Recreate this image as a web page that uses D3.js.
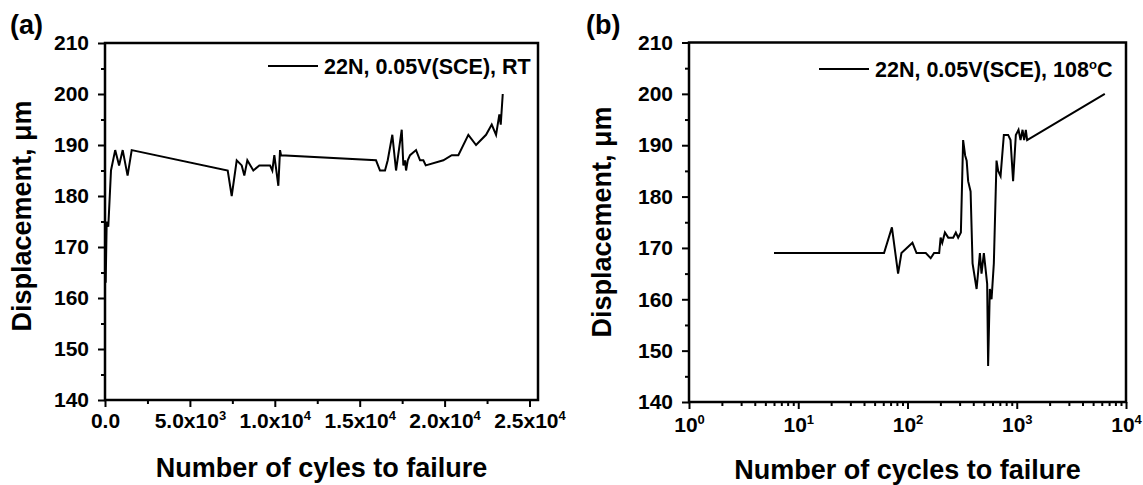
<!DOCTYPE html>
<html>
<head>
<meta charset="utf-8">
<script src="https://cdn.jsdelivr.net/npm/d3@7"></script>
<style>
  body { margin: 0; background: #fff; }
  svg text { font-family: "Liberation Sans", Arial, sans-serif; font-weight: bold; fill: #000; }
</style>
</head>
<body>
<svg id="chart" width="1143" height="485"></svg>
<script>
// Panel (a): RT test, linear cycles
var aCycles = [40, 100, 194, 353, 600, 830, 1042, 1330, 1573, 7227, 7462, 7757, 8051, 8205, 8382, 8735,
  9089, 9719, 9854, 9972, 10208, 10308, 10366, 15960, 16195, 16490, 16650, 16921, 17140, 17475, 17570,
  17670, 17730, 17830, 17965, 18318, 18553, 18748, 18890, 19926, 20420, 20809, 21398, 21852, 22441,
  22776, 23030, 23224, 23306, 23424];
var aDisp = [163, 175, 174, 185, 189, 186, 189, 184, 189, 185, 180, 187, 186, 184, 187, 185,
  186, 186, 185, 188, 182, 189, 188, 187, 185, 185, 187, 192, 185, 193, 186,
  187, 185, 187, 188, 189, 187, 187, 186, 187, 188, 188, 192, 190, 192,
  194, 192, 196, 194, 200];

// Panel (b): 108C test, log cycles
var bCycles = [6, 61, 72, 82, 88, 111, 121, 147, 163, 175, 195, 201, 208, 220, 236, 262, 277, 291, 308,
  323, 337, 348, 359, 378, 394, 429, 460, 476, 500, 536, 547, 567, 588, 617, 653, 676, 711,
  762, 834, 877, 926, 981, 1038, 1083, 1130, 1169, 1211, 1245, 6397];
var bDisp = [169, 169, 174, 165, 169, 171, 169, 169, 168, 169, 169, 172, 171, 173, 172, 172, 173, 172, 173,
  191, 188, 187, 183, 181, 167, 162, 169, 165, 169, 163, 147, 162, 160, 167, 187, 185, 184,
  192, 192, 191, 183, 192, 193, 191, 193, 191, 193, 191, 200];

// Axis ticks and labels
var yTicks = [140, 150, 160, 170, 180, 190, 200, 210];
var yMinor = [145, 155, 165, 175, 185, 195, 205];
var aXTicks = [0, 5000, 10000, 15000, 20000, 25000];
var aXMinor = [2500, 7500, 12500, 17500, 22500];
var aXBase = ["0.0", "5.0x10", "1.0x10", "1.5x10", "2.0x10", "2.5x10"];
var aXExp = ["", "3", "4", "4", "4", "4"];
var bXTicks = [1, 10, 100, 1000, 10000];
var bXBase = ["10", "10", "10", "10", "10"];
var bXExp = ["0", "1", "2", "3", "4"];

var svg = d3.select("#chart");
svg.append("rect").attr("width", 1143).attr("height", 485).attr("fill", "#fff");

function styleAxis(g) {
  g.select(".domain").remove();
  g.selectAll(".tick line").attr("stroke", "#000").attr("stroke-width", 2);
}

function supLabels(g, base, exp) {
  g.selectAll(".tick text").each(function (d, i) {
    var t = d3.select(this).text(null);
    t.append("tspan").text(base[i]);
    if (exp[i]) t.append("tspan").attr("dy", -8).attr("font-size", "13px").text(exp[i]);
  });
}

function drawPanel(p) {
  var g = svg.append("g");
  var x = p.x, y = p.y;
  var L = x.range()[0], R = x.range()[1], T = y.range()[1], B = y.range()[0];

  // y axis
  g.append("g").attr("transform", "translate(" + L + ",0)")
    .call(d3.axisLeft(y).tickValues(yMinor).tickSize(4).tickFormat(""))
    .call(styleAxis);
  g.append("g").attr("transform", "translate(" + L + ",0)")
    .call(d3.axisLeft(y).tickValues(yTicks).tickSize(7).tickPadding(9).tickFormat(d3.format("d")))
    .call(styleAxis)
    .selectAll("text").attr("font-size", "21px");

  // x axis
  g.append("g").attr("transform", "translate(0," + B + ")")
    .call(d3.axisBottom(x).tickValues(p.xMinor).tickSize(4).tickFormat(""))
    .call(styleAxis);
  var xa = g.append("g").attr("transform", "translate(0," + B + ")")
    .call(d3.axisBottom(x).tickValues(p.xTicks).tickSize(7).tickPadding(p.xPad))
    .call(styleAxis);
  xa.selectAll("text").attr("font-size", "21px");
  supLabels(xa, p.xBase, p.xExp);

  // frame
  g.append("rect").attr("x", L).attr("y", T).attr("width", R - L).attr("height", B - T)
    .attr("fill", "none").attr("stroke", "#000").attr("stroke-width", 2.5);

  // data line
  g.append("path")
    .datum(d3.zip(p.cx, p.cy))
    .attr("fill", "none").attr("stroke", "#000").attr("stroke-width", 2)
    .attr("d", d3.line().x(function (d) { return x(d[0]); }).y(function (d) { return y(d[1]); }));

  // legend
  g.append("line").attr("x1", p.leg[0]).attr("x2", p.leg[0] + 50).attr("y1", p.leg[1]).attr("y2", p.leg[1])
    .attr("stroke", "#000").attr("stroke-width", 2);
  var lt = g.append("text").attr("x", p.leg[0] + 56).attr("y", p.leg[1] + 7.5).attr("font-size", "21.5px");
  lt.append("tspan").text(p.legText);
  if (p.legSup) {
    lt.append("tspan").attr("dy", -8).attr("font-size", "13px").text(p.legSup);
    lt.append("tspan").attr("dy", 8).text(p.legEnd);
  }

  // axis titles
  g.append("text").attr("text-anchor", "middle").attr("font-size", "27px")
    .attr("x", (L + R) / 2).attr("y", p.xTitleY).text(p.xTitle);
  g.append("text").attr("text-anchor", "middle").attr("font-size", "27px")
    .attr("transform", "translate(" + p.yTitle[0] + "," + p.yTitle[1] + ") rotate(-90)")
    .text("Displacement, \u03bcm");

  // panel tag
  g.append("text").attr("x", p.tag[0]).attr("y", p.tag[1]).attr("font-size", "27px").text(p.tagText);
}

var xa = d3.scaleLinear().domain([0, 25500]).range([105, 538]);
var ya = d3.scaleLinear().domain([140, 210]).range([400, 43]);
drawPanel({
  x: xa, y: ya, cx: aCycles, cy: aDisp,
  xTicks: aXTicks, xMinor: aXMinor, xBase: aXBase, xExp: aXExp, xPad: 6,
  leg: [268, 66], legText: "22N, 0.05V(SCE), RT",
  xTitle: "Number of cyles to failure", xTitleY: 477, yTitle: [31, 216],
  tag: [10, 34], tagText: "(a)"
});

var xb = d3.scaleLog().domain([1, 10000]).range([689, 1126]);
var yb = d3.scaleLinear().domain([140, 210]).range([402, 42.5]);
var bMinor = xb.ticks().filter(function (v) { return bXTicks.indexOf(v) < 0; });
drawPanel({
  x: xb, y: yb, cx: bCycles, cy: bDisp,
  xTicks: bXTicks, xMinor: bMinor, xBase: bXBase, xExp: bXExp, xPad: 8,
  leg: [819, 69], legText: "22N, 0.05V(SCE), 108", legSup: "o", legEnd: "C",
  xTitle: "Number of cycles to failure", xTitleY: 479, yTitle: [611, 222],
  tag: [586, 34], tagText: "(b)"
});
</script>
</body>
</html>
